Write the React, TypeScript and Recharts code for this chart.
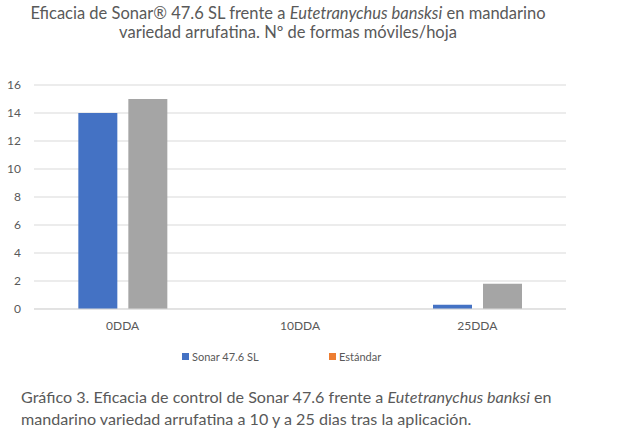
import { BarChart, Bar, XAxis, YAxis, CartesianGrid } from 'recharts';

const categories = ['0DDA', '10DDA', '25DDA'];
const sonarValues = [14, null, 0.3];
const estandarValues = [15, null, 1.8];
const yTicks = [0, 2, 4, 6, 8, 10, 12, 14, 16];

const legendItems = [
  { name: 'Sonar 47.6 SL', color: '#4472C4', left: 182 },
  { name: 'Estándar', color: '#ED7D31', left: 329 },
];

const data = categories.map((c, i) => ({
  name: c,
  sonar: sonarValues[i],
  estandar: estandarValues[i],
}));

const font = 'Lato, "Noto Sans", sans-serif';
const textColor = '#595959';

const App = () => {
  return (
    <div
      style={{
        position: 'absolute',
        left: 0,
        top: 0,
        width: 624,
        height: 439,
        background: '#fff',
        fontFamily: font,
        color: textColor,
      }}
    >
      <div
        style={{
          position: 'absolute',
          left: 0,
          top: 4,
          width: 576,
          textAlign: 'center',
          fontSize: 16.5,
          lineHeight: '19px',
          whiteSpace: 'nowrap',
        }}
      >
        Eficacia de Sonar® 47.6 SL frente a <i>Eutetranychus bansksi</i> en mandarino
        <br />
        variedad arrufatina. Nº de formas móviles/hoja
      </div>

      <div style={{ position: 'absolute', left: 0, top: 0 }}>
        <BarChart
          width={624}
          height={345}
          data={data}
          margin={{ top: 85, right: 58, left: 0, bottom: 6 }}
          barCategoryGap='25%'
          barGap={11}
        >
          <CartesianGrid vertical={false} stroke='#D9D9D9' />
          <XAxis
            dataKey='name'
            height={30}
            axisLine={{ stroke: '#D9D9D9' }}
            tickLine={false}
            tickSize={0}
            tickMargin={12}
            tick={{ fontSize: 12, fill: textColor, fontFamily: font }}
          />
          <YAxis
            width={34}
            domain={[0, 16]}
            ticks={yTicks}
            axisLine={false}
            tickLine={false}
            tickSize={0}
            tickMargin={13}
            tick={{ fontSize: 12, fill: textColor, fontFamily: font }}
          />
          <Bar dataKey='sonar' fill='#4472C4' isAnimationActive={false} />
          <Bar dataKey='estandar' fill='#A5A5A5' isAnimationActive={false} />
        </BarChart>
      </div>

      {legendItems.map((item) => (
        <div
          key={item.name}
          style={{
            position: 'absolute',
            left: item.left,
            top: 348,
            height: 16,
            display: 'flex',
            alignItems: 'center',
            fontSize: 11,
          }}
        >
          <span
            style={{
              display: 'inline-block',
              width: 7,
              height: 7,
              background: item.color,
              marginRight: 3,
            }}
          />
          {item.name}
        </div>
      ))}

      <div
        style={{
          position: 'absolute',
          left: 21,
          top: 386,
          fontSize: 16.1,
          lineHeight: '22px',
          whiteSpace: 'nowrap',
        }}
      >
        Gráfico 3. Eficacia de control de Sonar 47.6 frente a <i>Eutetranychus banksi</i> en
        <br />
        mandarino variedad arrufatina a 10 y a 25 dias tras la aplicación.
      </div>
    </div>
  );
};

export default App;
